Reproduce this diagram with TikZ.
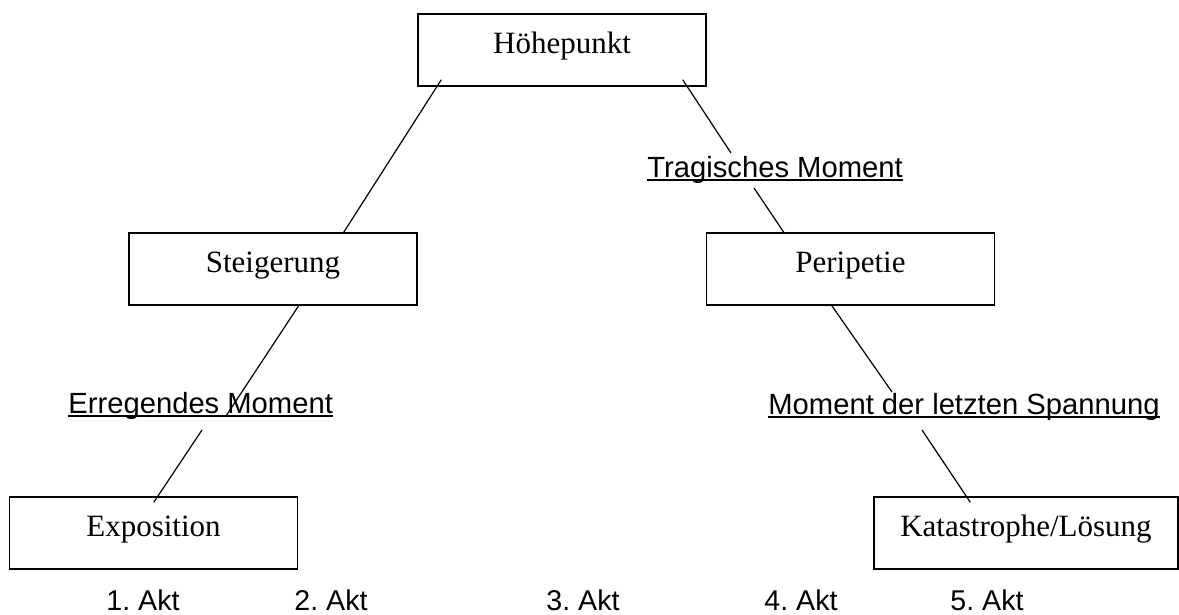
\documentclass[tikz,border=0pt]{standalone}
\usepackage{fontspec}
\setmainfont{Liberation Serif}
\setsansfont{Liberation Sans}
\usepackage{tikz}
\usetikzlibrary{%
  positioning
 ,calc
}
\frenchspacing
\tikzstyle{plan}=[x=0.5pt,y=-0.5pt]
\tikzstyle{box}=[rectangle,draw=black,line width=0.7pt,minimum width=144pt,minimum height=36pt,inner sep=0pt,text height=0.7em,text depth=0.35em,font=\fontsize{15.5}{18}\selectfont]
\tikzstyle{lbl}=[inner sep=0pt,anchor=base west,font=\sffamily\fontsize{14.6}{17}\selectfont]
\tikzstyle{akt}=[inner sep=0pt,anchor=base,font=\sffamily\fontsize{14.3}{17}\selectfont]
\tikzstyle{ln}=[line width=0.6pt]
\tikzstyle{ul}=[line width=1pt]

\begin{document}
\begin{tikzpicture}[plan]
      \useasboundingbox (0,0) rectangle (1179,615);
      % boxes
      \node[box] (hoehe) at (562,50) {Höhepunkt};
      \node[box] (steig) at (273,269) {Steigerung};
      \node[box] (peri) at (850.5,269) {Peripetie};
      \node[box] (expo) at (153.5,533) {Exposition};
      \node[box,minimum width=152pt] (kata) at (1026,533) {Katastrophe/Lösung};
      % moments
      \node[lbl] (m_trag) at (647,177) {Tragisches Moment};
      \node[lbl] (m_erreg) at (68,413) {Erregendes Moment};
      \node[lbl] (m_letzt) at (768,414) {Moment der letzten Spannung};
      \draw[ul] ($(m_trag.base west)+(0,3)$) -- ($(m_trag.base east)+(0,3)$);
      \draw[ul] ($(m_erreg.base west)+(0,3)$) -- ($(m_erreg.base east)+(0,3)$);
      \draw[ul] ($(m_letzt.base west)+(0,3)$) -- ($(m_letzt.base east)+(0,3)$);
      % acts
      \node[akt] (a_1) at (143,610) {1. Akt};
      \node[akt] (a_2) at (331,610) {2. Akt};
      \node[akt] (a_3) at (583,610) {3. Akt};
      \node[akt] (a_4) at (801,610) {4. Akt};
      \node[akt] (a_5) at (987,610) {5. Akt};
      % lines
      \draw[ln] ($(hoehe.south west)+(24,-7)$) -- ($(steig.north east)+(-74,0)$);
      \draw[ln] ($(hoehe.south east)+(-24,-7)$) -- ($(m_trag.base west)+(84,-24)$);
      \draw[ln] ($(m_trag.base west)+(107,11)$) -- ($(peri.north west)+(78,0)$);
      \draw[ln] ($(steig.south east)+(-119,0)$) -- ($(m_erreg.base west)+(158,3)$);
      \draw[ln] ($(m_erreg.base west)+(134,17)$) -- ($(expo.north west)+(145,6)$);
      \draw[ln] ($(peri.south west)+(126,0)$) -- ($(m_letzt.base west)+(124,-22)$);
      \draw[ln] ($(m_letzt.base west)+(154,16)$) -- ($(kata.north west)+(97,6)$);
\end{tikzpicture}
\end{document}
